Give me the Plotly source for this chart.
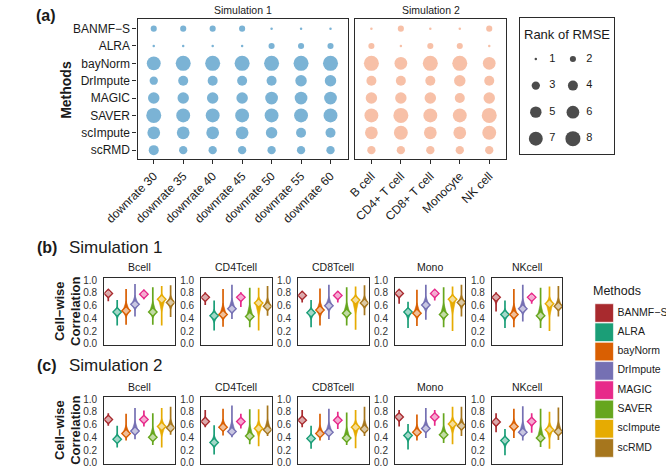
import plotly.graph_objects as go

W, H = 666, 472
FONT = "Liberation Sans, Arial, Helvetica, sans-serif"
INK = "#1a1a1a"
FRAME = "#2b2b2b"

# ---------------- data ----------------
methods = ["BANMF\u2212S", "ALRA", "bayNorm", "DrImpute", "MAGIC", "SAVER", "scImpute", "scRMD"]
method_colors = ["#A82A2E", "#1B9E77", "#D95F02", "#7570B3", "#E7298A", "#66A61E", "#E6AB02", "#A6761D"]

sim1_conditions = ["downrate 30", "downrate 35", "downrate 40", "downrate 45",
                   "downrate 50", "downrate 55", "downrate 60"]
sim2_conditions = ["B cell", "CD4+ T cell", "CD8+ T cell", "Monocyte", "NK cell"]

# rank of RMSE, one row per method
rank_sim1 = [
    [2, 2, 2, 2, 1, 1, 1],
    [1, 1, 1, 1, 2, 2, 2],
    [7, 8, 8, 8, 8, 8, 8],
    [3, 4, 4, 4, 4, 5, 5],
    [5, 5, 5, 5, 6, 6, 6],
    [8, 7, 7, 7, 7, 7, 7],
    [6, 6, 6, 6, 5, 4, 4],
    [4, 3, 3, 3, 3, 3, 3],
]
rank_sim2 = [
    [1, 2, 1, 1, 2],
    [2, 1, 2, 2, 1],
    [8, 6, 8, 8, 6],
    [4, 4, 4, 5, 4],
    [5, 5, 5, 4, 5],
    [7, 8, 7, 7, 8],
    [6, 7, 6, 6, 7],
    [3, 3, 3, 3, 3],
]
rank_levels = [1, 2, 3, 4, 5, 6, 7, 8]

cell_types = ["Bcell", "CD4Tcell", "CD8Tcell", "Mono", "NKcell"]
corr_ticks = [0.0, 0.2, 0.4, 0.6, 0.8, 1.0]

# cell-wise correlation: min / centre / max per cell type (rows) and method (cols)
b_lo = [
    [0.67, 0.29, 0.30, 0.43, 0.70, 0.30, 0.29, 0.42],
    [0.61, 0.21, 0.27, 0.39, 0.58, 0.26, 0.21, 0.44],
    [0.65, 0.26, 0.29, 0.39, 0.65, 0.29, 0.22, 0.45],
    [0.63, 0.25, 0.28, 0.38, 0.68, 0.26, 0.20, 0.43],
    [0.51, 0.25, 0.26, 0.35, 0.63, 0.25, 0.20, 0.43],
]
b_mid = [
    [0.79, 0.50, 0.52, 0.62, 0.78, 0.50, 0.70, 0.65],
    [0.73, 0.44, 0.46, 0.55, 0.73, 0.43, 0.64, 0.59],
    [0.76, 0.49, 0.53, 0.60, 0.76, 0.48, 0.69, 0.64],
    [0.79, 0.50, 0.48, 0.61, 0.79, 0.46, 0.70, 0.65],
    [0.73, 0.46, 0.46, 0.55, 0.73, 0.44, 0.63, 0.59],
]
b_hi = [
    [0.85, 0.69, 0.86, 0.94, 0.85, 0.89, 0.91, 0.92],
    [0.81, 0.68, 0.86, 0.93, 0.81, 0.88, 0.88, 0.91],
    [0.83, 0.69, 0.87, 0.93, 0.83, 0.89, 0.90, 0.92],
    [0.85, 0.66, 0.85, 0.93, 0.85, 0.89, 0.90, 0.93],
    [0.81, 0.68, 0.86, 0.93, 0.79, 0.88, 0.90, 0.91],
]
c_lo = [
    [0.58, 0.24, 0.35, 0.37, 0.57, 0.28, 0.24, 0.44],
    [0.56, 0.13, 0.43, 0.40, 0.54, 0.29, 0.26, 0.42],
    [0.56, 0.22, 0.35, 0.36, 0.53, 0.28, 0.23, 0.42],
    [0.57, 0.21, 0.35, 0.39, 0.58, 0.31, 0.29, 0.42],
    [0.48, 0.12, 0.39, 0.35, 0.47, 0.25, 0.22, 0.36],
]
c_mid = [
    [0.68, 0.37, 0.46, 0.50, 0.68, 0.40, 0.57, 0.55],
    [0.65, 0.32, 0.56, 0.49, 0.65, 0.42, 0.54, 0.52],
    [0.67, 0.38, 0.46, 0.48, 0.67, 0.39, 0.56, 0.53],
    [0.72, 0.43, 0.48, 0.54, 0.72, 0.44, 0.61, 0.58],
    [0.64, 0.35, 0.57, 0.48, 0.65, 0.39, 0.52, 0.49],
]
c_hi = [
    [0.78, 0.58, 0.77, 0.86, 0.82, 0.78, 0.86, 0.88],
    [0.83, 0.59, 0.85, 0.90, 0.77, 0.84, 0.84, 0.90],
    [0.83, 0.58, 0.77, 0.85, 0.80, 0.79, 0.83, 0.88],
    [0.83, 0.61, 0.76, 0.86, 0.83, 0.78, 0.88, 0.88],
    [0.78, 0.53, 0.85, 0.89, 0.78, 0.85, 0.80, 0.87],
]

# ---------------- helpers ----------------
def fx(p):
    return p / W


def fy(p):
    return 1 - p / H


def diam(r, d1=2.5, d8=15.0):
    # area-proportional size scale (like ggplot scale_size)
    a = d1 ** 2 + (r - 1) / 7 * (d8 ** 2 - d1 ** 2)
    return a ** 0.5


fig = go.Figure()
layout = dict(width=W, height=H, margin=dict(l=0, r=0, t=0, b=0),
              paper_bgcolor="white", plot_bgcolor="white", showlegend=False,
              font=dict(family=FONT, color=INK))
annotations = []
_n = [0]


def add_axes(xdom, ydom, xkw, ykw):
    _n[0] += 1
    n = _n[0]
    xs = "xaxis" if n == 1 else f"xaxis{n}"
    ys = "yaxis" if n == 1 else f"yaxis{n}"
    xr = "x" if n == 1 else f"x{n}"
    yr = "y" if n == 1 else f"y{n}"
    layout[xs] = dict(domain=[fx(xdom[0]), fx(xdom[1])], anchor=yr, showgrid=False, zeroline=False, **xkw)
    layout[ys] = dict(domain=[fy(ydom[1]), fy(ydom[0])], anchor=xr, showgrid=False, zeroline=False, **ykw)
    return xr, yr


frame = dict(showline=True, mirror=True, linecolor=FRAME, linewidth=1.3)


def ann(text, x, y, size, xanchor="center", bold=False, angle=0, yanchor="middle", xref="paper", yref="paper"):
    if bold:
        text = f"<b>{text}</b>"
    annotations.append(dict(text=text, x=x, y=y, xref=xref, yref=yref, xanchor=xanchor,
                            yanchor=yanchor, showarrow=False, textangle=angle,
                            font=dict(size=size, family=FONT, color=INK)))


# ---------------- panel (a) ----------------
PA_TOP, PA_BOT = 15, 158
for conds, ranks, xdom, color, title, show_y in [
    (sim1_conditions, rank_sim1, (110, 331), "#4393C3", "Simulation 1", True),
    (sim2_conditions, rank_sim2, (339, 498), "#F4A582", "Simulation 2", False),
]:
    nc = len(conds)
    xr, yr = add_axes(
        xdom, (PA_TOP, PA_BOT),
        dict(type="category", categoryorder="array", categoryarray=conds,
             range=[-0.55, nc - 1 + 0.58], tickangle=-45, ticks="outside", ticklen=4,
             tickcolor=FRAME, tickfont=dict(size=12, color=INK), **frame),
        dict(type="category", categoryorder="array", categoryarray=methods,
             range=[7.53, -0.57], ticks="outside" if show_y else "", ticklen=4, tickcolor=FRAME,
             showticklabels=show_y, tickfont=dict(size=12, color=INK), **frame),
    )
    xs, ys, ss = [], [], []
    for mi, m in enumerate(methods):
        for ci, c in enumerate(conds):
            xs.append(c)
            ys.append(m)
            ss.append(diam(ranks[mi][ci]))
    fig.add_trace(go.Scatter(x=xs, y=ys, mode="markers", xaxis=xr, yaxis=yr,
                             marker=dict(size=ss, color=color, line=dict(width=0)),
                             hoverinfo="skip"))
    ann(title, fx((xdom[0] + xdom[1]) / 2), fy(6), 10.5)

ann("(a)", fx(1), fy(12), 16, xanchor="left", bold=True)
ann("Methods", fx(34), fy(87), 14, bold=True, angle=-90)

# rank legend
xr, yr = add_axes((512, 611), (14, 153),
                  dict(range=[-0.436, 2.10], showticklabels=False, ticks="", **frame),
                  dict(range=[3.593, -1.556], showticklabels=False, ticks="", **frame))
lx = [(r - 1) % 2 for r in rank_levels]
ly = [(r - 1) // 2 for r in rank_levels]
fig.add_trace(go.Scatter(x=lx, y=ly, mode="markers", xaxis=xr, yaxis=yr, hoverinfo="skip",
                         marker=dict(size=[diam(r) for r in rank_levels], color="black", line=dict(width=0))))
fig.add_trace(go.Scatter(x=[v + 0.36 for v in lx], y=ly, mode="text", xaxis=xr, yaxis=yr,
                         text=[str(r) for r in rank_levels], textposition="middle right",
                         cliponaxis=False,
                         textfont=dict(size=11, color=INK, family=FONT), hoverinfo="skip"))
ann("Rank of RMSE", fx(562), fy(31), 13)

# ---------------- panels (b) and (c) ----------------
BW = 0.36
box_lefts = [75, 177, 279, 381, 483]
BOX_W = 74


def add_violins(xr, yr, lo, mid, hi):
    for i in range(len(methods)):
        c = method_colors[i]
        fig.add_trace(go.Scatter(x=[i, i], y=[lo[i], hi[i]], mode="lines", xaxis=xr, yaxis=yr,
                                 line=dict(color=c, width=1.7), hoverinfo="skip"))
        yb = mid[i] - 0.5 * (mid[i] - lo[i])
        yt = mid[i] + 0.45 * (hi[i] - mid[i])
        fig.add_trace(go.Scatter(x=[i, i + BW, i, i - BW, i], y=[yb, mid[i], yt, mid[i], yb],
                                 mode="lines", fill="toself", fillcolor=c, xaxis=xr, yaxis=yr,
                                 line=dict(color=c, width=0.5), hoverinfo="skip"))
        fig.add_trace(go.Scatter(x=[i], y=[mid[i]], mode="markers", xaxis=xr, yaxis=yr,
                                 marker=dict(symbol="diamond", size=6.5, color="rgba(255,255,255,0.6)",
                                             line=dict(color=c, width=1.4)),
                                 hoverinfo="skip"))


for (top, bot, lo, mid, hi, strip_y, title_y, plabel, stitle, ylab_y) in [
    (279, 347, b_lo, b_mid, b_hi, 268, 248, "(b)", "Simulation 1", 313),
    (400, 468, c_lo, c_mid, c_hi, 390, 368, "(c)", "Simulation 2", 434),
]:
    for k, cell in enumerate(cell_types):
        x0 = box_lefts[k]
        xr, yr = add_axes((x0, x0 + BOX_W), (top, bot),
                          dict(range=[-0.45, 7.45], showticklabels=False, ticks="", **frame),
                          dict(range=[-0.02, 1.03], tickvals=corr_ticks, tickformat=".1f", ticks="",
                               ticklabelstandoff=4, tickfont=dict(size=10, color="#333333"), **frame))
        add_violins(xr, yr, lo[k], mid[k], hi[k])
        ann(cell, fx(x0 + BOX_W / 2), fy(strip_y), 10.5)
    ann(plabel, fx(2), fy(title_y), 16, xanchor="left", bold=True)
    ann(stitle, fx(36), fy(title_y), 17, xanchor="left")
    ann("Cell\u2212wise<br>Correlation", fx(36), fy(ylab_y), 13, bold=True, angle=-90)

# methods colour legend
xr, yr = add_axes((590, 666), (304.5, 461.5),
                  dict(range=[-1.1, 6.5], visible=False),
                  dict(type="category", categoryorder="array", categoryarray=methods,
                       range=[7.5, -0.5], visible=False))
fig.add_trace(go.Scatter(x=[0] * len(methods), y=methods, mode="markers", xaxis=xr, yaxis=yr,
                         cliponaxis=False,
                         marker=dict(symbol="square", size=18.5, color=method_colors,
                                     line=dict(color="white", width=0.6)), hoverinfo="skip"))
fig.add_trace(go.Scatter(x=[1.4] * len(methods), y=methods, mode="text", xaxis=xr, yaxis=yr,
                         text=methods, textposition="middle right", cliponaxis=False,
                         textfont=dict(size=10.5, color=INK, family=FONT), hoverinfo="skip"))
ann("Methods", fx(587), fy(292), 12.5, xanchor="left")

layout["annotations"] = annotations
fig.update_layout(**layout)
fig.write_html(
    "out.html",
    config={"displayModeBar": False, "responsive": False},
    post_script="document.body.style.margin='0';document.body.style.padding='0';"
                "document.body.style.overflow='hidden';",
)
